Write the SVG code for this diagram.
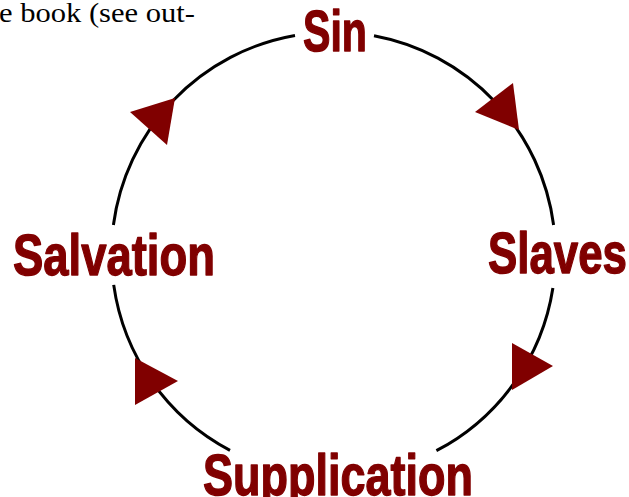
<svg xmlns="http://www.w3.org/2000/svg" width="629" height="497" viewBox="0 0 629 497">
  <style>
    .ring { fill: none; stroke: #000; stroke-width: 3; }
    .head { fill: #800000; }
    .lbl { font-family: "Liberation Sans Narrow", "Liberation Sans", Arial, sans-serif; font-weight: bold; font-size: 58px; fill: #800000; stroke: #800000; stroke-width: 1.4; stroke-linejoin: round; }
    .body { font-family: "Liberation Serif", "Times New Roman", serif; font-size: 28px; fill: #000; }
  </style>
  <rect width="629" height="497" fill="#fff"/>
  <text class="body" x="-1" y="22" textLength="196" lengthAdjust="spacingAndGlyphs">e book (see out-</text>
  <g id="connectors">
    <path class="ring" d="M374,35.7 A222,222 0 0 1 553.6,225"/>
    <path class="ring" d="M552.9,288 A222,222 0 0 1 436.4,450.7"/>
    <path class="ring" d="M230,450.4 A222,222 0 0 1 113.7,284.9"/>
    <path class="ring" d="M113.4,225 A222,222 0 0 1 295,35.4"/>
    <polygon class="head" points="475,112 513,83 519,130"/>
    <polygon class="head" points="512,343 553,366 512,390"/>
    <polygon class="head" points="135,358 178,381 135,405"/>
    <polygon class="head" points="130,112 175,98 167,145"/>
  </g>
  <g id="node-sin">
    <text class="lbl" x="303" y="51" textLength="64" lengthAdjust="spacingAndGlyphs">Sin</text>
  </g>
  <g id="node-slaves">
    <text class="lbl" x="488" y="273" textLength="139" lengthAdjust="spacingAndGlyphs">Slaves</text>
  </g>
  <g id="node-supplication">
    <text class="lbl" x="203" y="495" textLength="270" lengthAdjust="spacingAndGlyphs">Supplication</text>
  </g>
  <g id="node-salvation">
    <text class="lbl" x="13" y="275" textLength="202" lengthAdjust="spacingAndGlyphs">Salvation</text>
  </g>
</svg>
